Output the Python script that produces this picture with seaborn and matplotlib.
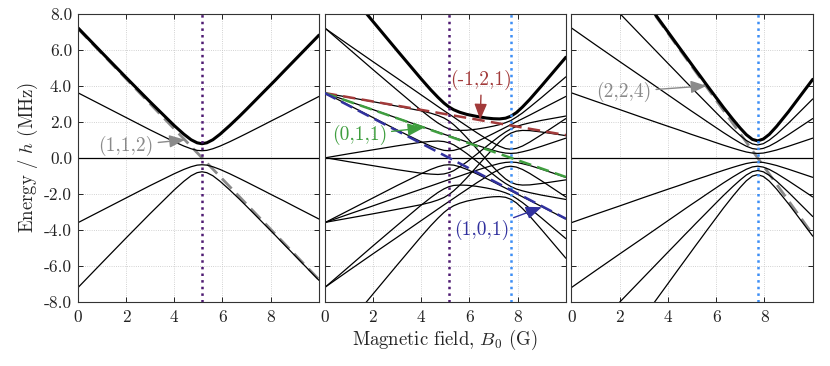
import numpy as np
import pandas as pd
import matplotlib
matplotlib.use('Agg')
import matplotlib.pyplot as plt
import seaborn as sns
from matplotlib.ticker import FormatStrFormatter

sns.set_style('ticks')
plt.rcParams['font.family'] = ['cmr10', 'DejaVu Serif']
plt.rcParams['mathtext.fontset'] = 'cm'
plt.rcParams['axes.unicode_minus'] = False

# magnetic field grid (G)
B = [0, 1, 2, 3, 4, 4.4, 4.7, 4.95, 5.15, 5.35, 5.6, 5.9, 6.3, 6.7, 7.0, 7.25,
     7.5, 7.72, 7.95, 8.2, 8.5, 9.0, 10.0]
zero = [0.0] * len(B)

# --- panel 1 : (1,1) levels, resonance at 5.15 G ---
p1_p2 = [7.24, 5.85, 4.47, 3.11, 1.79, 1.31, 1.00, 0.83, 0.78, 0.83, 1.00, 1.31,
         1.79, 2.30, 2.70, 3.04, 3.38, 3.68, 3.99, 4.33, 4.75, 5.44, 6.82]
p1_p1 = [3.62, 2.93, 2.24, 1.55, 0.89, 0.65, 0.50, 0.41, 0.39, 0.41, 0.50, 0.65,
         0.89, 1.15, 1.35, 1.52, 1.69, 1.84, 2.00, 2.17, 2.37, 2.72, 3.41]
p1_m1 = [-3.62, -2.93, -2.24, -1.55, -0.89, -0.65, -0.50, -0.41, -0.39, -0.41, -0.50, -0.65,
         -0.89, -1.15, -1.35, -1.52, -1.69, -1.84, -2.00, -2.17, -2.37, -2.72, -3.41]
p1_m2 = [-7.24, -5.85, -4.47, -3.11, -1.79, -1.31, -1.00, -0.83, -0.78, -0.83, -1.00, -1.31,
         -1.79, -2.30, -2.70, -3.04, -3.38, -3.68, -3.99, -4.33, -4.75, -5.44, -6.82]

# --- panel 2 : mixed levels (mA, mB) ---
p2_1_2 = [10.84, 9.21, 7.59, 5.98, 4.39, 3.78, 3.36, 3.04, 2.83, 2.67, 2.53, 2.41,
          2.30, 2.21, 2.17, 2.16, 2.20, 2.31, 2.51, 2.82, 3.24, 4.01, 5.59]
p2_1_1 = [7.23, 6.07, 4.91, 3.77, 2.64, 2.22, 1.93, 1.73, 1.61, 1.54, 1.52, 1.53,
          1.59, 1.68, 1.76, 1.84, 1.95, 2.07, 2.26, 2.49, 2.81, 3.36, 4.50]
p2_1_0 = [3.62, 2.93, 2.24, 1.55, 0.89, 0.65, 0.50, 0.41, 0.39, 0.41, 0.50, 0.65,
          0.89, 1.15, 1.35, 1.52, 1.69, 1.84, 2.00, 2.17, 2.37, 2.72, 3.41]
p2_1_m1 = [0.01, -0.22, -0.44, -0.66, -0.86, -0.91, -0.93, -0.90, -0.83, -0.72, -0.51, -0.23,
           0.19, 0.62, 0.94, 1.20, 1.43, 1.60, 1.74, 1.84, 1.94, 2.08, 2.32]
p2_1_m2 = [-3.60, -3.36, -3.12, -2.87, -2.61, -2.48, -2.35, -2.21, -2.05, -1.84, -1.53, -1.11,
           -0.51, 0.09, 0.53, 0.88, 1.18, 1.37, 1.48, 1.52, 1.51, 1.43, 1.23]
p2_0_2 = [7.22, 6.28, 5.35, 4.43, 3.50, 3.13, 2.85, 2.62, 2.44, 2.26, 2.03, 1.76,
          1.40, 1.06, 0.82, 0.64, 0.51, 0.47, 0.52, 0.65, 0.87, 1.29, 2.18]
p2_0_1 = [3.61, 3.14, 2.68, 2.21, 1.75, 1.57, 1.43, 1.31, 1.22, 1.13, 1.02, 0.88,
          0.70, 0.53, 0.41, 0.32, 0.26, 0.24, 0.26, 0.33, 0.43, 0.64, 1.09]
p2_0_m1 = [-3.61, -3.14, -2.68, -2.21, -1.75, -1.57, -1.43, -1.31, -1.22, -1.13, -1.02, -0.88,
           -0.70, -0.53, -0.41, -0.32, -0.26, -0.24, -0.26, -0.33, -0.43, -0.64, -1.09]
p2_0_m2 = [-7.22, -6.28, -5.35, -4.43, -3.50, -3.13, -2.85, -2.62, -2.44, -2.26, -2.03, -1.76,
           -1.40, -1.06, -0.82, -0.64, -0.51, -0.47, -0.52, -0.65, -0.87, -1.29, -2.18]
p2_m1_2 = [3.60, 3.36, 3.12, 2.87, 2.61, 2.48, 2.35, 2.21, 2.05, 1.84, 1.53, 1.11,
           0.51, -0.09, -0.53, -0.88, -1.18, -1.37, -1.48, -1.52, -1.51, -1.43, -1.23]
p2_m1_1 = [-0.01, 0.22, 0.44, 0.66, 0.86, 0.91, 0.93, 0.90, 0.83, 0.72, 0.51, 0.23,
           -0.19, -0.62, -0.94, -1.20, -1.43, -1.60, -1.74, -1.84, -1.94, -2.08, -2.32]
p2_m1_0 = [-3.62, -2.93, -2.24, -1.55, -0.89, -0.65, -0.50, -0.41, -0.39, -0.41, -0.50, -0.65,
           -0.89, -1.15, -1.35, -1.52, -1.69, -1.84, -2.00, -2.17, -2.37, -2.72, -3.41]
p2_m1_m1 = [-7.23, -6.07, -4.91, -3.77, -2.64, -2.22, -1.93, -1.73, -1.61, -1.54, -1.52, -1.53,
            -1.59, -1.68, -1.76, -1.84, -1.95, -2.07, -2.26, -2.49, -2.81, -3.36, -4.50]
p2_m1_m2 = [-10.84, -9.21, -7.59, -5.98, -4.39, -3.78, -3.36, -3.04, -2.83, -2.67, -2.53, -2.41,
            -2.30, -2.21, -2.17, -2.16, -2.20, -2.31, -2.51, -2.82, -3.24, -4.01, -5.59]

# --- panel 3 : (2,2) levels, resonance at 7.72 G ---
p3_p4 = [14.43, 12.57, 10.71, 8.85, 7.00, 6.26, 5.71, 5.25, 4.88, 4.52, 4.06, 3.52,
         2.80, 2.12, 1.64, 1.28, 1.02, 0.94, 1.04, 1.30, 1.74, 2.57, 4.36]
p3_p3 = [10.82, 9.43, 8.03, 6.64, 5.25, 4.70, 4.28, 3.94, 3.66, 3.39, 3.05, 2.64,
         2.10, 1.59, 1.23, 0.96, 0.77, 0.71, 0.78, 0.98, 1.30, 1.93, 3.27]
p3_p2 = p2_0_2
p3_p1 = p2_0_1
p3_m1 = p2_0_m1
p3_m2 = p2_0_m2
p3_m3 = [-10.82, -9.43, -8.03, -6.64, -5.25, -4.70, -4.28, -3.94, -3.66, -3.39, -3.05, -2.64,
         -2.10, -1.59, -1.23, -0.96, -0.77, -0.71, -0.78, -0.98, -1.30, -1.93, -3.27]
p3_m4 = [-14.43, -12.57, -10.71, -8.85, -7.00, -6.26, -5.71, -5.25, -4.88, -4.52, -4.06, -3.52,
         -2.80, -2.12, -1.64, -1.28, -1.02, -0.94, -1.04, -1.30, -1.74, -2.57, -4.36]

# bare (uncoupled) reference lines, end points at B = 0 and 10 G
B_ends = [0, 10]
bare_112 = [7.20, -6.78]
bare_m121 = [3.60, 1.26]
bare_011 = [3.60, -1.07]
bare_101 = [3.60, -3.39]
bare_224 = [14.40, -4.27]

B_res_a = 5.15
B_res_b = 7.72

c_purple = '#4e1a72'
c_sky = '#3d8ef5'
c_gray = '#8a8a8a'
c_red = '#a23a3a'
c_green = '#3f9e3f'
c_blue = '#31319e'

panels = [
    {'thick': p1_p2, 'thin': [p1_p1, zero, p1_m1, p1_m2]},
    {'thick': p2_1_2, 'thin': [p2_1_1, p2_1_0, p2_1_m1, p2_1_m2, p2_0_2, p2_0_1, zero,
                               p2_0_m1, p2_0_m2, p2_m1_2, p2_m1_1, p2_m1_0, p2_m1_m1, p2_m1_m2]},
    {'thick': p3_p4, 'thin': [p3_p3, p3_p2, p3_p1, zero, p3_m1, p3_m2, p3_m3, p3_m4]},
]

fig, axes = plt.subplots(1, 3, figsize=(8.3, 3.66), dpi=100, sharey=True)
plt.subplots_adjust(left=0.0936, right=0.9792, bottom=0.176, top=0.962, wspace=0.023)

for ax, pan in zip(axes, panels):
    rows = []
    for k, lev in enumerate(pan['thin']):
        rows.append(pd.DataFrame({'B': B, 'E': lev, 'level': k}))
    df = pd.concat(rows, ignore_index=True)
    sns.lineplot(data=df, x='B', y='E', units='level', estimator=None, color='k',
                 lw=0.9, ax=ax, legend=False, zorder=2)
    sns.lineplot(x=B, y=pan['thick'], color='k', lw=2.2, ax=ax, zorder=2.2)

# reference dashed lines
axes[0].plot(B_ends, bare_112, color=c_gray, lw=2.0, dashes=(5, 2.5), zorder=1.8)
axes[2].plot(B_ends, bare_224, color=c_gray, lw=2.0, dashes=(5, 2.5), zorder=1.8)
axes[1].plot(B_ends, bare_m121, color=c_red, lw=1.8, dashes=(5, 2.5), zorder=3)
axes[1].plot(B_ends, bare_011, color=c_green, lw=1.8, dashes=(5, 2.5), zorder=3)
axes[1].plot(B_ends, bare_101, color=c_blue, lw=1.8, dashes=(5, 2.5), zorder=3)

# resonance markers
for ax in axes[:2]:
    ax.axvline(B_res_a, color=c_purple, ls=':', lw=1.8, zorder=2.5)
for ax in axes[1:]:
    ax.axvline(B_res_b, color=c_sky, ls=':', lw=1.8, zorder=2.5)

arrow = dict(arrowstyle='-|>,head_length=0.8,head_width=0.32', lw=1.0,
             shrinkA=1, shrinkB=0, mutation_scale=12)
labels = [
    (axes[0], '(1,1,2)', (4.45, 1.0), (2.0, 0.67), c_gray),
    (axes[1], '(-1,2,1)', (6.45, 2.12), (6.5, 4.3), c_red),
    (axes[1], '(0,1,1)', (4.1, 1.66), (1.44, 1.27), c_green),
    (axes[1], '(1,0,1)', (9.0, -2.75), (6.5, -4.0), c_blue),
    (axes[2], '(2,2,4)', (5.6, 4.0), (2.17, 3.67), c_gray),
]
for ax, txt, tip, pos, col in labels:
    ax.annotate(txt, xy=tip, xytext=pos, color=col, fontsize=14, ha='center',
                va='center', arrowprops=dict(arrow, color=col), zorder=4)

for ax in axes:
    ax.set_xlim(0, 10)
    ax.set_ylim(-8, 8)
    ax.set_xticks([0, 2, 4, 6, 8])
    ax.set_yticks(np.arange(-8, 9, 2))
    ax.xaxis.set_major_formatter(FormatStrFormatter('%d'))
    ax.yaxis.set_major_formatter(FormatStrFormatter('%.1f'))
    ax.grid(True, ls=':', lw=0.6, color='#c4c4c4')
    ax.set_axisbelow(True)
    ax.tick_params(direction='in', top=True, right=True, length=3.5, width=0.7,
                   labelsize=12.5, colors='#222222', pad=4)
    ax.tick_params(axis='x', pad=6)
    for sp in ax.spines.values():
        sp.set_linewidth(0.8)
        sp.set_color('#333333')
    ax.set_xlabel('')
    ax.set_ylabel('')

axes[0].set_ylabel('Energy / $h$ (MHz)', fontsize=13.5, labelpad=3)
axes[1].set_xlabel('Magnetic field, $B_0$ (G)', fontsize=13.5, labelpad=2)

fig.savefig('out.png', dpi=100)
